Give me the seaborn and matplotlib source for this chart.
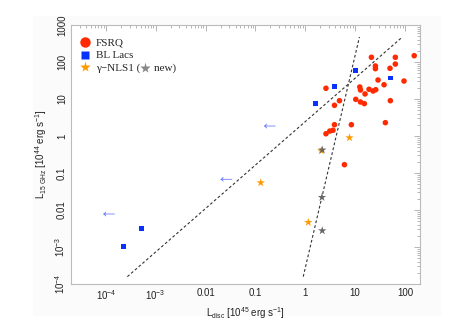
import numpy as np
import pandas as pd
import seaborn as sns
import matplotlib
matplotlib.use("Agg")
import matplotlib.pyplot as plt
from matplotlib.lines import Line2D
from matplotlib.patches import Rectangle
from matplotlib.ticker import FixedLocator, FixedFormatter, LogLocator, NullFormatter

# ------------------------------
# Data
# ------------------------------
fsrq_x = [21.2, 64, 64, 25.5, 25.5, 50, 153, 28.8, 38, 95.5, 2.6, 12.4, 12.8, 19, 22.9,
          25.9, 15.8, 10.3, 12.8, 15.3, 50.8, 4.85, 3.85, 3.85, 8.4, 40.4, 2.6, 3.1, 3.6, 6.1]
fsrq_y = [134, 134, 88, 78, 66, 67.6, 148, 32.6, 24.3, 30.6, 19.5, 21.1, 17.5, 18.3, 16.5,
          17.8, 13.7, 9.8, 8.3, 7.5, 9.0, 9.0, 6.76, 2.02, 2.02, 2.29, 1.15, 1.36, 1.43, 0.168]

bllac_x = [10.3, 51.8, 3.85, 1.6, 5.2e-4, 2.3e-4]
bllac_y = [59.7, 37, 22, 7.5, 3.2e-3, 1.04e-3]

nls1_x = [7.7, 2.09, 0.128, 1.15]
nls1_y = [0.9, 0.4, 0.0547, 4.65e-3]

new_x = [2.19, 2.16, 2.19]
new_y = [0.42, 0.022, 2.76e-3]

# upper limits on L_disc
ul_x = [0.193, 0.026, 1.15e-4]
ul_y = [1.86, 0.0676, 7.8e-3]

# dashed relations (end points)
line1_x = [2.7e-4, 84]
line1_y = [1.58e-4, 445]
line2_x = [0.91, 12.2]
line2_y = [1.58e-4, 474]

xtick_vals = [1e-4, 1e-3, 1e-2, 0.1, 1, 10, 100]
xtick_labels = ["10$^{-4}$", "10$^{-3}$", "0.01", "0.1", "1", "10", "100"]
ytick_vals = [1e-4, 1e-3, 1e-2, 0.1, 1, 10, 100, 1000]
ytick_labels = ["10$^{-4}$", "10$^{-3}$", "0.01", "0.1", "1", "10", "100", "1000"]

# ------------------------------
# Style
# ------------------------------
sns.set_style("white")
plt.rcParams["font.family"] = ["Liberation Sans", "DejaVu Sans"]
plt.rcParams["mathtext.fontset"] = "custom"
plt.rcParams["mathtext.rm"] = "Liberation Sans"
plt.rcParams["mathtext.it"] = "Liberation Sans:italic"

fig = plt.figure(figsize=(4.68, 3.31), dpi=100)
fig.patches.append(Rectangle((33 / 468, 16 / 331), 407 / 468, 299 / 331,
                             transform=fig.transFigure, color="#fbfbfb", zorder=-10))
ax = fig.add_axes([71 / 468, 47 / 331, 349 / 468, 259 / 331])
ax.set_facecolor("white")
ax.set_xscale("log")
ax.set_yscale("log")

# ------------------------------
# Lines and points
# ------------------------------
ax.plot(line1_x, line1_y, color="#333333", lw=0.8, ls=(0, (2.5, 2)))
ax.plot(line2_x, line2_y, color="#333333", lw=0.8, ls=(0, (2.5, 2)))

sns.scatterplot(x=fsrq_x, y=fsrq_y, ax=ax, color="#ff2a00", marker="o", s=16,
                edgecolor="none", zorder=3)
sns.scatterplot(x=bllac_x, y=bllac_y, ax=ax, color="#0a32ff", marker="s", s=12,
                edgecolor="none", zorder=3)
sns.scatterplot(x=nls1_x, y=nls1_y, ax=ax, color="#ff9900", marker="*", s=40,
                edgecolor="none", zorder=3)
sns.scatterplot(x=new_x, y=new_y, ax=ax, color="#666666", marker="*", s=40,
                edgecolor="none", zorder=4)
sns.scatterplot(x=ul_x, y=ul_y, ax=ax, color="#6a7dff", marker=r"$\leftarrow$", s=70,
                edgecolor="none", linewidth=0, zorder=3)

# ------------------------------
# Axes
# ------------------------------
ax.set_xlim(2e-5, 200)
ax.set_ylim(1e-4, 1000)
ax.xaxis.set_major_locator(FixedLocator(xtick_vals))
ax.xaxis.set_major_formatter(FixedFormatter(xtick_labels))
ax.yaxis.set_major_locator(FixedLocator(ytick_vals))
ax.yaxis.set_major_formatter(FixedFormatter(ytick_labels))
for axis in (ax.xaxis, ax.yaxis):
    axis.set_minor_locator(LogLocator(base=10, subs=np.arange(2, 10), numticks=20))
    axis.set_minor_formatter(NullFormatter())

ax.tick_params(which="both", direction="in", top=True, right=True, color="#aaaaaa",
               labelsize=7, labelcolor="#222222", width=0.6)
ax.tick_params(which="major", length=4, pad=3)
ax.tick_params(which="minor", length=2)
for lab in ax.get_yticklabels():
    lab.set_rotation(90)
    lab.set_va("center")
for sp in ax.spines.values():
    sp.set_color("#bbbbbb")
    sp.set_linewidth(0.8)

ax.set_xlabel(r"L$_{\rm disc}$ [10$^{45}$ erg s$^{-1}$]", fontsize=7, color="#222222", labelpad=2)
ax.set_ylabel(r"L$_{\rm 15\ GHz}$ [10$^{44}$ erg s$^{-1}$]", fontsize=7, color="#222222", labelpad=3)

# ------------------------------
# Legend
# ------------------------------
handles = [
    Line2D([], [], ls="none", marker="o", color="#ff2a00", markersize=7.5, mec="none"),
    Line2D([], [], ls="none", marker="s", color="#0a32ff", markersize=5.5, mec="none"),
    Line2D([], [], ls="none", marker="*", color="#ff9900", markersize=8, mec="none"),
]
prefix = "\u03b3\u2212NLS1 ("
gap = "     "
labels = ["FSRQ", "BL Lacs", prefix + gap + "new)"]
leg = ax.legend(handles, labels, loc="upper left", frameon=False,
                prop={"family": "Liberation Serif", "size": 8},
                bbox_to_anchor=(0.005, 0.975), handlelength=1.0, handletextpad=0.5,
                labelspacing=0.25, borderaxespad=0.2)

# grey star inside the third legend label
fig.canvas.draw()
renderer = fig.canvas.get_renderer()
txt = leg.get_texts()[2]
bb = txt.get_window_extent(renderer)
tmp = fig.text(0, 0, prefix + "x", fontfamily="Liberation Serif", fontsize=8)
w1 = tmp.get_window_extent(renderer).width
tmp.set_text("x")
w1 -= tmp.get_window_extent(renderer).width
tmp.remove()
sx = bb.x0 + w1 + 5
sy = (bb.y0 + bb.y1) / 2
ax.plot([sx], [sy], marker="*", color="#888888", markersize=8, mec="none",
        transform=None, clip_on=False, zorder=5)

fig.savefig("out.png", dpi=100)
